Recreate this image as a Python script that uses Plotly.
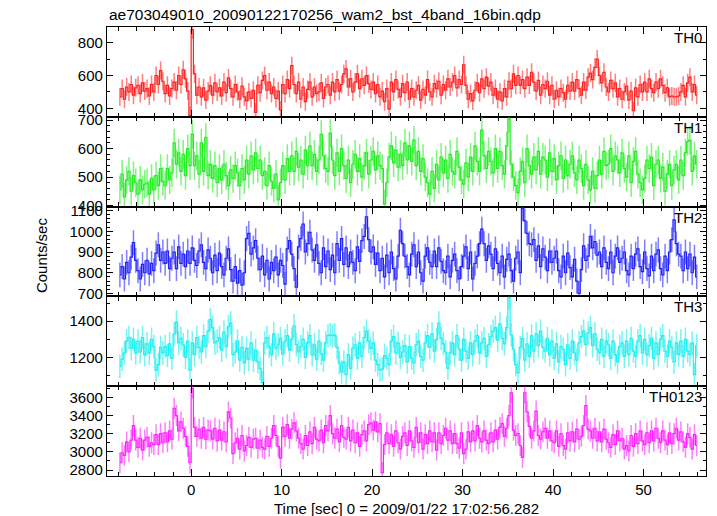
import plotly.graph_objects as go
from plotly.subplots import make_subplots

title_text = "ae703049010_20090122170256_wam2_bst_4band_16bin.qdp"
x_title = "Time [sec] 0 = 2009/01/22 17:02:56.282"
y_title = "Counts/sec"
band_names = ["TH0", "TH1", "TH2", "TH3", "TH0123"]

# bin centres: first bin centre and bin width (0.25 s = 16 x 1/64 s)
t_start = -7.875
bin_width = 0.25

# values, one row = 4 s (16 bins)
th0 = [
    470, 520, 455, 530, 500, 545, 480, 525, 540, 490, 555, 505, 520, 475, 545, 500,
    600, 545, 630, 565, 490, 540, 475, 520, 560, 510, 600, 545, 635, 580, 505, 355,
    880, 610, 480, 530, 470, 525, 450, 505, 540, 480, 555, 500, 525, 475, 560, 495,
    585, 520, 470, 545, 500, 455, 535, 470, 445, 500, 460, 510, 375, 540, 495, 570,
    600, 510, 560, 490, 530, 460, 505, 390, 545, 490, 575, 520, 660, 545, 490, 560,
    455, 530, 440, 515, 560, 470, 530, 490, 500, 555, 460, 530, 545, 480, 560, 500,
    575, 505, 545, 610, 640, 530, 580, 500, 560, 610, 520, 580, 540, 600, 550, 515,
    560, 490, 545, 470, 505, 440, 520, 395, 560, 500, 575, 515, 470, 550, 495, 560,
    455, 520, 470, 510, 540, 450, 515, 480, 575, 500, 470, 550, 520, 565, 480, 545,
    510, 580, 530, 560, 600, 525, 575, 545, 665, 540, 455, 490, 445, 510, 555, 495,
    580, 520, 590, 535, 560, 480, 520, 455, 500, 445, 520, 470, 565, 520, 610, 540,
    600, 540, 575, 520, 590, 540, 620, 560, 505, 570, 480, 545, 520, 565, 480, 540,
    455, 510, 470, 520, 495, 455, 540, 505, 560, 505, 575, 520, 480, 560, 510, 590,
    615, 575, 650, 700, 600, 555, 620, 530, 500, 570, 520, 555, 470, 520, 455, 500,
    535, 450, 505, 385, 525, 470, 545, 500, 560, 500, 580, 520, 495, 560, 520, 580,
    540, 495, 525, 470, 475, 470, 470, 475, 500, 540, 470, 555, 590, 500, 545, 480,
]

th1 = [
    455, 510, 430, 490, 520, 450, 505, 480, 440, 490, 455, 475, 480, 440, 495, 455,
    505, 470, 530, 485, 470, 530, 490, 515, 620, 545, 585, 520, 580, 505, 600, 540,
    650, 540, 575, 510, 620, 520, 640, 505, 545, 495, 540, 480, 530, 490, 545, 505,
    470, 525, 495, 540, 515, 470, 530, 490, 560, 510, 575, 525, 585, 530, 560, 505,
    520, 470, 540, 485, 460, 510, 420, 480, 540, 490, 565, 520, 575, 520, 590, 535,
    560, 510, 595, 540, 610, 540, 580, 520, 560, 650, 575, 530, 520, 655, 560, 505,
    585, 520, 600, 540, 495, 560, 480, 545, 580, 520, 565, 500, 540, 585, 510, 560,
    590, 525, 575, 540, 530, 405, 480, 570, 610, 550, 595, 535, 580, 540, 620, 560,
    610, 555, 630, 540, 590, 520, 565, 500, 480, 440, 520, 460, 545, 490, 570, 515,
    560, 495, 580, 520, 510, 590, 535, 490, 475, 550, 500, 570, 520, 610, 555, 520,
    665, 575, 530, 590, 555, 515, 600, 530, 590, 540, 510, 610, 705, 545, 500, 470,
    445, 520, 555, 480, 600, 540, 510, 570, 525, 590, 510, 570, 560, 500, 585, 520,
    565, 490, 540, 575, 495, 560, 505, 545, 575, 515, 490, 560, 530, 470, 545, 490,
    455, 520, 460, 505, 560, 510, 590, 540, 545, 600, 520, 575, 560, 515, 585, 530,
    500, 575, 480, 555, 590, 510, 480, 455, 495, 560, 530, 570, 470, 545, 560, 495,
    535, 450, 510, 545, 470, 525, 545, 490, 560, 505, 585, 625, 630, 520, 575, 545,
]

th2 = [
    790, 830, 770, 850, 800, 875, 945, 860, 810, 770, 840, 800, 860, 795, 845, 810,
    895, 935, 860, 900, 845, 905, 820, 870, 900, 820, 925, 845, 890, 830, 905, 845,
    920, 860, 835, 905, 935, 850, 820, 910, 870, 800, 885, 810, 895, 830, 790, 870,
    915, 815, 760, 830, 750, 810, 740, 800, 965, 990, 890, 920, 955, 870, 815, 880,
    790, 860, 770, 850, 810, 875, 790, 860, 835, 745, 915, 955, 890, 820, 730, 925,
    965, 1035, 900, 940, 995, 910, 860, 935, 845, 800, 920, 830, 905, 815, 885, 800,
    940, 860, 965, 840, 920, 830, 900, 850, 810, 925, 855, 955, 975, 1070, 960, 900,
    925, 840, 895, 810, 870, 780, 885, 800, 900, 820, 770, 880, 1005, 940, 880, 830,
    790, 890, 935, 830, 900, 800, 760, 880, 920, 850, 830, 905, 830, 920, 855, 810,
    800, 880, 780, 860, 890, 810, 770, 830, 880, 925, 820, 900, 770, 845, 880, 940,
    1010, 940, 860, 930, 890, 820, 915, 845, 800, 880, 780, 865, 890, 810, 760, 870,
    900, 800, 1110, 1050, 990, 940, 935, 960, 860, 930, 830, 915, 875, 810, 905, 850,
    870, 905, 810, 780, 880, 800, 895, 825, 780, 865, 760, 700, 815, 930, 860, 880,
    975, 920, 950, 885, 900, 830, 920, 850, 820, 900, 800, 880, 920, 850, 870, 900,
    810, 790, 880, 820, 890, 915, 830, 805, 900, 820, 785, 880, 810, 890, 910, 820,
    790, 880, 810, 900, 960, 1055, 940, 890, 880, 810, 900, 820, 890, 800, 875, 780,
]

th3 = [
    1150, 1190, 1225, 1290, 1310, 1250, 1300, 1225, 1290, 1230, 1310, 1215, 1275, 1225, 1300, 1260,
    1130, 1160, 1255, 1225, 1260, 1210, 1275, 1195, 1330, 1395, 1280, 1305, 1270, 1200, 1290, 1130,
    1280, 1215, 1310, 1255, 1230, 1320, 1260, 1345, 1410, 1365, 1280, 1290, 1310, 1240, 1340, 1260,
    1370, 1390, 1215, 1230, 1290, 1185, 1255, 1170, 1250, 1190, 1280, 1185, 1240, 1175, 1140, 1060,
    1280, 1310, 1260, 1215, 1330, 1250, 1270, 1305, 1220, 1290, 1320, 1240, 1300, 1375, 1270, 1230,
    1260, 1300, 1200, 1280, 1320, 1215, 1270, 1190, 1290, 1220, 1185, 1280, 1320, 1325, 1320, 1325,
    1255, 1170, 1120, 1175, 1105, 1215, 1140, 1250, 1270, 1195, 1280, 1205, 1310, 1345, 1290, 1250,
    1280, 1185, 1160, 1130, 1135, 1210, 1195, 1160, 1290, 1315, 1225, 1280, 1200, 1230, 1265, 1175,
    1260, 1195, 1170, 1270, 1290, 1205, 1185, 1280, 1320, 1255, 1330, 1235, 1300, 1390, 1305, 1275,
    1230, 1140, 1225, 1280, 1215, 1320, 1245, 1185, 1300, 1235, 1195, 1280, 1215, 1290, 1320, 1225,
    1280, 1305, 1205, 1270, 1315, 1345, 1365, 1295, 1385, 1305, 1275, 1365, 1530, 1325, 1245, 1160,
    1115, 1255, 1305, 1185, 1275, 1205, 1320, 1235, 1330, 1265, 1345, 1255, 1235, 1305, 1215, 1290,
    1195, 1275, 1175, 1260, 1245, 1160, 1270, 1195, 1290, 1225, 1185, 1280, 1315, 1345, 1270, 1335,
    1365, 1265, 1330, 1245, 1225, 1300, 1205, 1290, 1270, 1195, 1290, 1215, 1175, 1260, 1280, 1205,
    1290, 1215, 1305, 1235, 1205, 1290, 1320, 1225, 1300, 1215, 1265, 1305, 1195, 1280, 1215, 1300,
    1320, 1235, 1205, 1290, 1255, 1175, 1280, 1215, 1290, 1205, 1300, 1235, 1215, 1280, 1105, 1265,
]

th0123 = [
    2880, 2990, 2960, 3110, 3000, 3130, 3290, 3130, 3050, 3150, 3020, 3130, 3160, 3060, 3100, 3080,
    3190, 3080, 3200, 3100, 3210, 3110, 3230, 3140, 3480, 3400, 3230, 3330, 3260, 3170, 3060, 2880,
    3700, 3270, 3170, 3250, 3150, 3270, 3140, 3240, 3230, 3140, 3260, 3120, 3240, 3130, 3220, 3110,
    3440, 3370, 2980, 3100, 3150, 3030, 3180, 3010, 3070, 3160, 3050, 3140, 3150, 3040, 3130, 3050,
    3030, 3170, 3060, 3150, 3290, 3180, 3060, 2930, 3270, 3170, 3300, 3150, 3250, 3320, 3230, 3150,
    3090, 3030, 3180, 3070, 3220, 3090, 3270, 3140, 3120, 3240, 3100, 3290, 3230, 3400, 3200, 3150,
    3250, 3110, 3290, 3160, 3140, 3270, 3120, 3240, 3100, 3210, 3060, 3190, 3230, 3120, 3300, 3320,
    3240, 3330, 3220, 3310, 2770, 3080, 3210, 3090, 3190, 3060, 3230, 3100, 3030, 3170, 3210, 3070,
    3230, 3120, 3050, 3270, 3100, 3210, 3030, 3190, 3090, 3230, 3110, 3210, 3020, 3210, 3090, 3180,
    3260, 3130, 3230, 3090, 3200, 3090, 3040, 3210, 2980, 3030, 3220, 3110, 3230, 3120, 3290, 3150,
    3110, 3230, 3130, 3090, 3210, 3110, 3240, 3140, 3270, 3310, 3170, 3260, 3400, 3650, 3240, 3180,
    3200, 3070, 2940, 3650, 3440, 3280, 3150, 3230, 3450, 3180, 3140, 3220, 3260, 3150, 3230, 3120,
    3100, 3230, 3060, 3200, 3070, 3030, 3210, 3120, 3220, 3110, 3250, 3140, 3170, 3290, 3510, 3250,
    3230, 3150, 3260, 3120, 3220, 3110, 3250, 3140, 3100, 3050, 3190, 3080, 3230, 3120, 3150, 3030,
    3070, 3010, 3180, 3060, 3200, 3090, 3230, 3120, 3080, 3210, 3100, 3230, 3120, 3260, 3150, 3100,
    3230, 3130, 3080, 3210, 3090, 3200, 3260, 3130, 3220, 3110, 3050, 3200, 3160, 3030, 3190, 3070,
]

# typical 1-sigma error per band (counts/sec)
band_errors = [55, 50, 60, 65, 115]

series = [th0, th1, th2, th3, th0123]
line_colors = ["#ff2020", "#20ee20", "#2020ff", "#20f0f0", "#ff20ff"]
err_colors = ["rgba(255,40,40,0.6)", "rgba(40,235,40,0.6)", "rgba(40,40,255,0.6)",
              "rgba(30,235,235,0.6)", "rgba(255,40,255,0.6)"]
y_ranges = [[348, 896], [396, 712], [686, 1119], [1041, 1537], [2734, 3723]]
y_dticks = [200, 100, 100, 200, 200]
y_minor = [100, 20, 20, 100, 100]
x_range = [-9.3, 56.9]

FONT = "Liberation Sans, Arial, sans-serif"

fig = make_subplots(rows=5, cols=1, shared_xaxes=True, vertical_spacing=0)

for i, vals in enumerate(series):
    t = [t_start + bin_width * k for k in range(len(vals))]
    fig.add_trace(
        go.Scatter(
            x=t, y=vals, mode="lines",
            line=dict(color=line_colors[i], width=1.2, shape="hvh"),
            error_y=dict(type="constant", value=band_errors[i], color=err_colors[i],
                         thickness=1.5, width=0),
            showlegend=False, hoverinfo="skip",
        ),
        row=i + 1, col=1,
    )
    fig.update_yaxes(
        range=y_ranges[i], dtick=y_dticks[i], tick0=0,
        minor=dict(ticks="inside", dtick=y_minor[i], ticklen=3, tickcolor="black"),
        row=i + 1, col=1,
    )
    yref = "y domain" if i == 0 else f"y{i + 1} domain"
    fig.add_annotation(
        text=band_names[i], xref="paper", x=1, xanchor="right", xshift=-2,
        yref=yref, y=1, yanchor="top", yshift=0, showarrow=False,
        font=dict(family=FONT, size=15, color="black"),
    )

fig.update_yaxes(
    ticks="inside", ticklen=6, tickcolor="black", showline=True, linecolor="black",
    linewidth=1.3, mirror="allticks", showgrid=False, zeroline=False,
    tickfont=dict(family=FONT, size=15, color="black"),
)
fig.update_xaxes(
    range=x_range, dtick=10, tick0=0, ticks="inside", ticklen=7, tickcolor="black",
    showline=True, linecolor="black", linewidth=1.3, mirror="allticks",
    showgrid=False, zeroline=False,
    minor=dict(ticks="inside", dtick=2, ticklen=4, tickcolor="black"),
    tickfont=dict(family=FONT, size=15, color="black"),
)

fig.add_annotation(
    text=title_text, xref="paper", x=0, xanchor="left", yref="paper", y=1,
    yanchor="bottom", yshift=2, showarrow=False,
    font=dict(family=FONT, size=15.5, color="black"),
)
fig.add_annotation(
    text=y_title, xref="paper", x=0, xanchor="center", xshift=-66,
    yref="paper", y=0.492, yanchor="middle", textangle=-90, showarrow=False,
    font=dict(family=FONT, size=15, color="black"),
)
fig.add_annotation(
    text=x_title, xref="paper", x=0.5, xanchor="center", yref="paper", y=0,
    yanchor="top", yshift=-22, showarrow=False,
    font=dict(family=FONT, size=15, color="black"),
)

fig.update_layout(
    width=717, height=516,
    margin=dict(l=107, r=11, t=27, b=40),
    paper_bgcolor="white", plot_bgcolor="white",
    font=dict(family=FONT, size=15, color="black"),
    showlegend=False,
)

# the page's default 8px body margin would shift the chart; remove it
fig.write_html("out.html", config={"displayModeBar": False},
               post_script="document.body.style.margin='0px';")
